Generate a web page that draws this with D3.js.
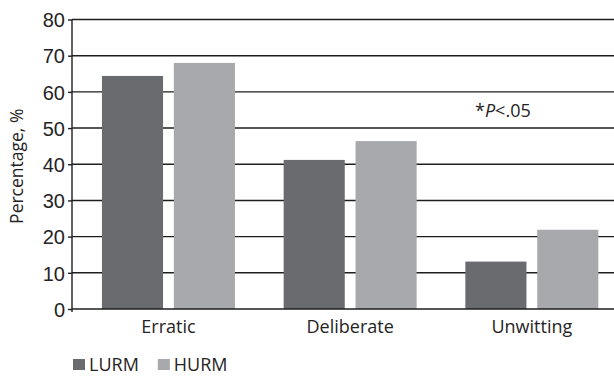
<!DOCTYPE html>
<html>
<head>
<meta charset="utf-8">
<script src="https://cdn.jsdelivr.net/npm/d3@7/dist/d3.min.js"></script>
<style>
  body { margin: 0; background: #fff; }
  svg { display: block; font-family: 'Open Sans', sans-serif; }
  .grid line { stroke: #1e1e1e; stroke-width: 1.4px; }
  .axis path, .axis line { stroke: #1e1e1e; stroke-width: 1.4px; }
  text { fill: #262324; }
</style>
</head>
<body>
<div id="chart"></div>
<script>
// data
const categories = ['Erratic', 'Deliberate', 'Unwitting'];
const seriesNames = ['LURM', 'HURM'];
const lurmValues = [64.4, 41.2, 13.1];
const hurmValues = [68.0, 46.4, 21.9];
const yTicks = [0, 10, 20, 30, 40, 50, 60, 70, 80];
const colors = ['#6a6b6f', '#a8a9ac'];

const w = 614, h = 376;
const margins = { left: 72, right: 0, top: 19.5, bottom: 67 };

const svg = d3.select('#chart').append('svg')
  .attr('width', w)
  .attr('height', h);

const y = d3.scaleLinear()
  .domain([0, 80])
  .range([h - margins.bottom, margins.top]);

// outer band: evenly spaced groups, half a gap at each end
const x = d3.scaleBand()
  .domain(categories)
  .range([77.6, 622.7])
  .paddingInner(0.268)
  .paddingOuter(0.134);

const xInner = d3.scaleBand()
  .domain(seriesNames)
  .range([0, x.bandwidth()])
  .paddingInner(0.15);

// gridlines
svg.append('g')
  .attr('class', 'grid')
  .selectAll('line')
  .data(yTicks.filter(d => d > 0))
  .enter()
  .append('line')
  .attr('x1', margins.left)
  .attr('x2', w)
  .attr('y1', d => y(d))
  .attr('y2', d => y(d));

// bars
const rows = categories.map((c, i) => ({
  name: c,
  values: [
    { series: 'LURM', value: lurmValues[i] },
    { series: 'HURM', value: hurmValues[i] }
  ]
}));

const groups = svg.selectAll('.group')
  .data(rows)
  .enter()
  .append('g')
  .attr('class', 'group')
  .attr('transform', d => `translate(${x(d.name)}, 0)`);

groups.selectAll('rect')
  .data(d => d.values)
  .enter()
  .append('rect')
  .attr('x', d => xInner(d.series))
  .attr('width', xInner.bandwidth())
  .attr('y', d => y(d.value))
  .attr('height', d => y(0) - y(d.value))
  .style('fill', (d, i) => colors[i]);

// baseline
svg.append('line')
  .attr('x1', margins.left)
  .attr('x2', w)
  .attr('y1', y(0))
  .attr('y2', y(0))
  .style('stroke', '#1e1e1e')
  .style('stroke-width', 1.4);

// y axis
const yAxis = d3.axisLeft(y)
  .tickValues(yTicks)
  .tickSize(4)
  .tickPadding(3)
  .tickSizeOuter(0);

const yg = svg.append('g')
  .attr('class', 'axis')
  .attr('transform', `translate(${margins.left}, 0)`)
  .call(yAxis);
yg.select('.domain').attr('d', `M0,${margins.top}V${y(0) + 3}`);
yg.selectAll('text')
  .style('font-size', '20px')
  .style('fill', '#262324')
  .attr('dy', '0.36em');

// category labels
svg.append('g')
  .selectAll('text')
  .data(categories)
  .enter()
  .append('text')
  .attr('x', d => x(d) + x.bandwidth() / 2)
  .attr('y', y(0) + 24)
  .style('text-anchor', 'middle')
  .style('font-size', '18px')
  .text(d => d);

// y label
svg.append('text')
  .attr('transform', `translate(23, ${(y(0) + y(80)) / 2 + 2}) rotate(-90)`)
  .style('text-anchor', 'middle')
  .style('font-size', '17.5px')
  .text('Percentage, %');

// significance note
const note = svg.append('text')
  .attr('x', 475)
  .attr('y', 117)
  .style('font-size', '18px');
note.append('tspan').text('*');
note.append('tspan').style('font-style', 'italic').text('P');
note.append('tspan').text('<.05');

// legend
const legend = svg.append('g')
  .attr('class', 'legend')
  .attr('transform', 'translate(73, 357)');

let offset = 0;
seriesNames.forEach((name, i) => {
  legend.append('rect')
    .attr('x', offset)
    .attr('y', 2)
    .attr('width', 12)
    .attr('height', 11)
    .style('fill', colors[i]);
  const t = legend.append('text')
    .attr('x', offset + 16)
    .attr('y', 14)
    .style('font-size', '18px')
    .text(name);
  offset += 16 + t.node().getBBox().width + 19;
});
</script>
</body>
</html>
